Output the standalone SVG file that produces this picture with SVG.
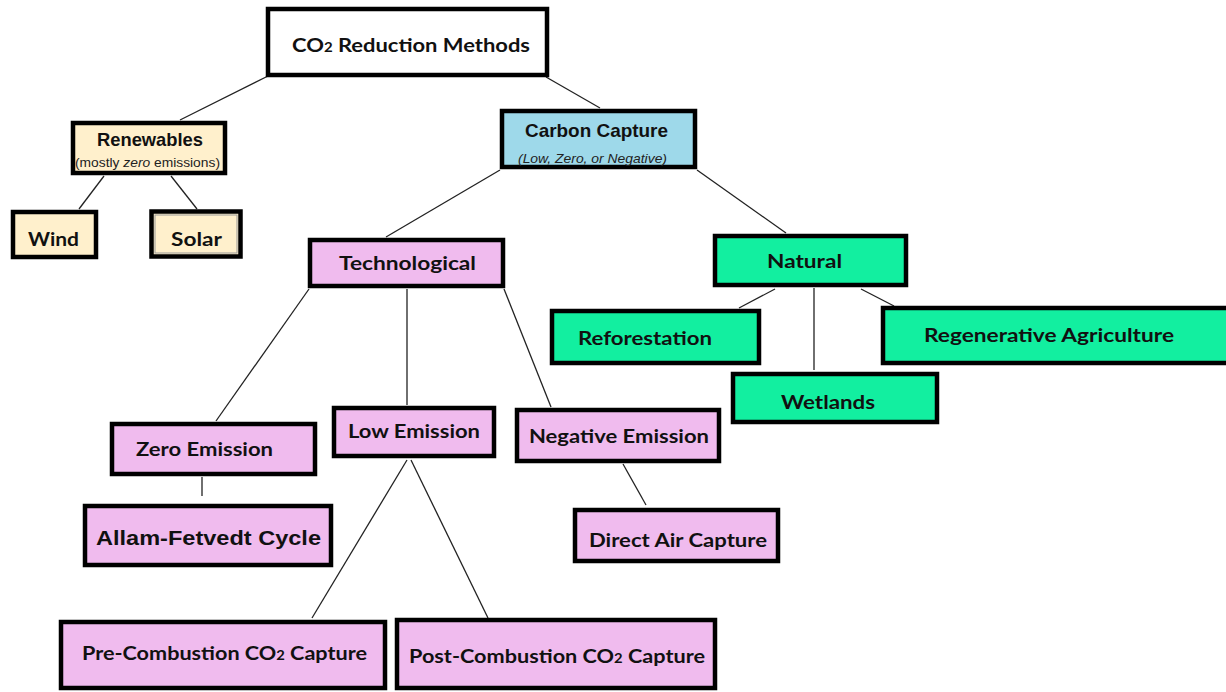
<svg xmlns="http://www.w3.org/2000/svg" width="1226" height="692" viewBox="0 0 1226 692">
<style>
.box{stroke:#000;stroke-width:4.5}
.cream{fill:#FFF0CC}
.blue{fill:#9ED9EA}
.green{fill:#12EFA0}
.pink{fill:#F0BBEE}
.white{fill:#fff}
.t{font-family:Lato,"Open Sans","Liberation Sans",sans-serif;font-weight:bold;font-size:19px;fill:#111}
.n{font-family:"Liberation Sans Narrow","Liberation Sans",Arial,sans-serif;font-weight:bold;font-size:19px;fill:#111}
.s{font-family:"Liberation Sans Narrow","Liberation Sans",Arial,sans-serif;font-size:13px;fill:#222}
.a{font-family:"Liberation Sans",Arial,sans-serif;font-weight:bold;font-size:20px;fill:#111}
.c line{stroke:#222;stroke-width:1.3}
</style>
<rect width="1226" height="692" fill="#fff"/>
<g id="connectors" class="c">
<line x1="268" y1="76" x2="180" y2="120"/>
<line x1="546" y1="77" x2="600" y2="108"/>
<line x1="104" y1="176" x2="79" y2="209"/>
<line x1="171" y1="176" x2="197" y2="209"/>
<line x1="500" y1="170" x2="386" y2="237"/>
<line x1="697" y1="170" x2="786" y2="233"/>
<line x1="775" y1="289" x2="739" y2="308"/>
<line x1="814" y1="288" x2="814" y2="370"/>
<line x1="861" y1="289" x2="894" y2="306"/>
<line x1="309" y1="289" x2="216" y2="421"/>
<line x1="407" y1="289" x2="407" y2="405"/>
<line x1="504" y1="289" x2="551" y2="407"/>
<line x1="202" y1="477" x2="202" y2="496"/>
<line x1="407" y1="460" x2="312" y2="618"/>
<line x1="411" y1="460" x2="488" y2="618"/>
<line x1="623" y1="464" x2="646" y2="505"/>
</g>
<g id="co2-reduction-methods">
<rect class="box white" x="268" y="9" width="279" height="66"/>
<text class="t" x="292" y="52" textLength="238" lengthAdjust="spacingAndGlyphs">CO<tspan font-size="13">2</tspan> Reduction Methods</text>
</g>
<g id="renewables">
<rect class="box cream" x="73" y="123" width="152" height="50"/>
<text class="n" x="97" y="146" textLength="106" lengthAdjust="spacingAndGlyphs">Renewables</text>
<text class="s" x="75" y="167" textLength="145" lengthAdjust="spacingAndGlyphs">(mostly <tspan font-style="italic">zero</tspan> emissions)</text>
</g>
<g id="wind">
<rect class="box cream" x="13" y="212" width="83" height="45"/>
<text class="t" x="28" y="246" textLength="51" lengthAdjust="spacingAndGlyphs">Wind</text>
</g>
<g id="solar">
<rect class="box cream" x="151.5" y="211.5" width="89" height="45" stroke-width="5.5"/>
<rect x="155" y="215" width="82" height="38" fill="none" stroke="#999" stroke-width="1"/>
<text class="t" x="171" y="246" textLength="51" lengthAdjust="spacingAndGlyphs">Solar</text>
</g>
<g id="carbon-capture">
<rect class="box blue" x="502" y="111" width="193" height="56"/>
<text class="n" x="525" y="137" textLength="143" lengthAdjust="spacingAndGlyphs">Carbon Capture</text>
<text class="s" x="518" y="163" font-style="italic" textLength="149" lengthAdjust="spacingAndGlyphs">(Low, Zero, or Negative)</text>
</g>
<g id="technological">
<rect class="box pink" x="310" y="240" width="193" height="46"/>
<text class="t" x="339" y="270" textLength="137" lengthAdjust="spacingAndGlyphs">Technological</text>
</g>
<g id="natural">
<rect class="box green" x="715" y="236" width="191" height="49"/>
<text class="t" x="767" y="268" textLength="75" lengthAdjust="spacingAndGlyphs">Natural</text>
</g>
<g id="reforestation">
<rect class="box green" x="552" y="311" width="207" height="52"/>
<text class="t" x="578" y="345" textLength="134" lengthAdjust="spacingAndGlyphs">Reforestation</text>
</g>
<g id="regenerative-agriculture">
<rect class="box green" x="883" y="308" width="350" height="55"/>
<text class="t" x="924" y="342" textLength="250" lengthAdjust="spacingAndGlyphs">Regenerative Agriculture</text>
</g>
<g id="wetlands">
<rect class="box green" x="733" y="374" width="204" height="48"/>
<text class="t" x="781" y="409" textLength="94" lengthAdjust="spacingAndGlyphs">Wetlands</text>
</g>
<g id="zero-emission">
<rect class="box pink" x="112" y="424" width="203" height="50"/>
<text class="t" x="136" y="456" textLength="137" lengthAdjust="spacingAndGlyphs">Zero Emission</text>
</g>
<g id="low-emission">
<rect class="box pink" x="334" y="408" width="160" height="48"/>
<text class="t" x="348" y="438" textLength="132" lengthAdjust="spacingAndGlyphs">Low Emission</text>
</g>
<g id="negative-emission">
<rect class="box pink" x="517" y="410" width="202" height="51"/>
<text class="t" x="529" y="443" textLength="180" lengthAdjust="spacingAndGlyphs">Negative Emission</text>
</g>
<g id="allam-fetvedt-cycle">
<rect class="box pink" x="85" y="506" width="246" height="59"/>
<text class="a" x="96" y="545" textLength="225" lengthAdjust="spacingAndGlyphs">Allam-Fetvedt Cycle</text>
</g>
<g id="direct-air-capture">
<rect class="box pink" x="575" y="510" width="203" height="51"/>
<text class="t" x="589" y="547" textLength="178" lengthAdjust="spacingAndGlyphs">Direct Air Capture</text>
</g>
<g id="pre-combustion">
<rect class="box pink" x="61" y="622" width="324" height="66"/>
<text class="t" x="82" y="660" textLength="285" lengthAdjust="spacingAndGlyphs">Pre-Combustion CO<tspan font-size="13">2</tspan> Capture</text>
</g>
<g id="post-combustion">
<rect class="box pink" x="397" y="620" width="318" height="68"/>
<text class="t" x="409" y="663" textLength="296" lengthAdjust="spacingAndGlyphs">Post-Combustion CO<tspan font-size="13">2</tspan> Capture</text>
</g>
</svg>
